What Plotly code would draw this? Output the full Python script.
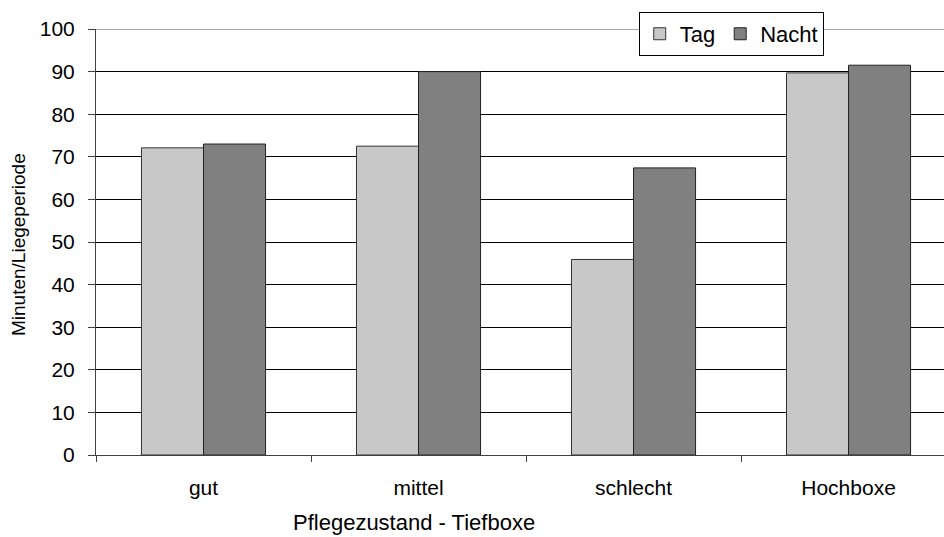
import plotly.graph_objects as go

categories = ["gut", "mittel", "schlecht", "Hochboxe"]
tag_values = [72.1, 72.5, 45.9, 89.7]
nacht_values = [73.0, 90.0, 67.4, 91.5]
y_ticks = [0, 10, 20, 30, 40, 50, 60, 70, 80, 90, 100]

FONT = "Liberation Sans, Arial, sans-serif"

fig = go.Figure()
fig.add_trace(go.Bar(
    name="Tag", x=categories, y=tag_values,
    marker=dict(color="#C8C8C8", line=dict(color="#333333", width=1)),
))
fig.add_trace(go.Bar(
    name="Nacht", x=categories, y=nacht_values,
    marker=dict(color="#808080", line=dict(color="#222222", width=1)),
))

fig.update_layout(
    width=944, height=537,
    margin=dict(l=96, r=0, t=29, b=82),
    paper_bgcolor="white", plot_bgcolor="white",
    barmode="group", bargap=0.423, bargroupgap=0,
    font=dict(family=FONT, color="black", size=21),
    showlegend=True,
    legend=dict(
        orientation="h", x=0.640, y=1.040, xanchor="left", yanchor="top",
        bordercolor="#000000", borderwidth=1, bgcolor="white",
        font=dict(size=22, family=FONT), itemwidth=30,
        tracegroupgap=0,
    ),
    xaxis=dict(
        range=[-0.5, 3.444], tickson="boundaries", ticks="outside",
        ticklen=6, tickcolor="#404040", showline=True, linecolor="#404040",
        showgrid=False, tickfont=dict(size=21), ticklabelstandoff=14,
        fixedrange=True,
    ),
    yaxis=dict(
        range=[0, 100], tickvals=y_ticks, ticks="outside", ticklen=7,
        tickcolor="#404040", showline=True, linecolor="#404040",
        showgrid=True, gridcolor="#000000", gridwidth=1, zeroline=False,
        tickfont=dict(size=21), ticklabelstandoff=9, fixedrange=True,
    ),
    shapes=[dict(
        type="line", xref="paper", yref="y", x0=0, x1=1, y0=100, y1=100,
        line=dict(color="#8c8c8c", width=1.5), layer="above",
    )],
    annotations=[
        dict(text="Pflegezustand - Tiefboxe", xref="paper", yref="paper",
             x=(414 - 96) / 848, y=-(522 - 455) / 426, xanchor="center",
             yanchor="middle", showarrow=False, font=dict(size=22)),
        dict(text="Minuten/Liegeperiode", xref="paper", yref="paper",
             x=-(96 - 18) / 848, y=(455 - 245) / 426, xanchor="center",
             yanchor="middle", textangle=-90, showarrow=False,
             font=dict(size=19)),
    ],
)

fig.write_html("out.html")
